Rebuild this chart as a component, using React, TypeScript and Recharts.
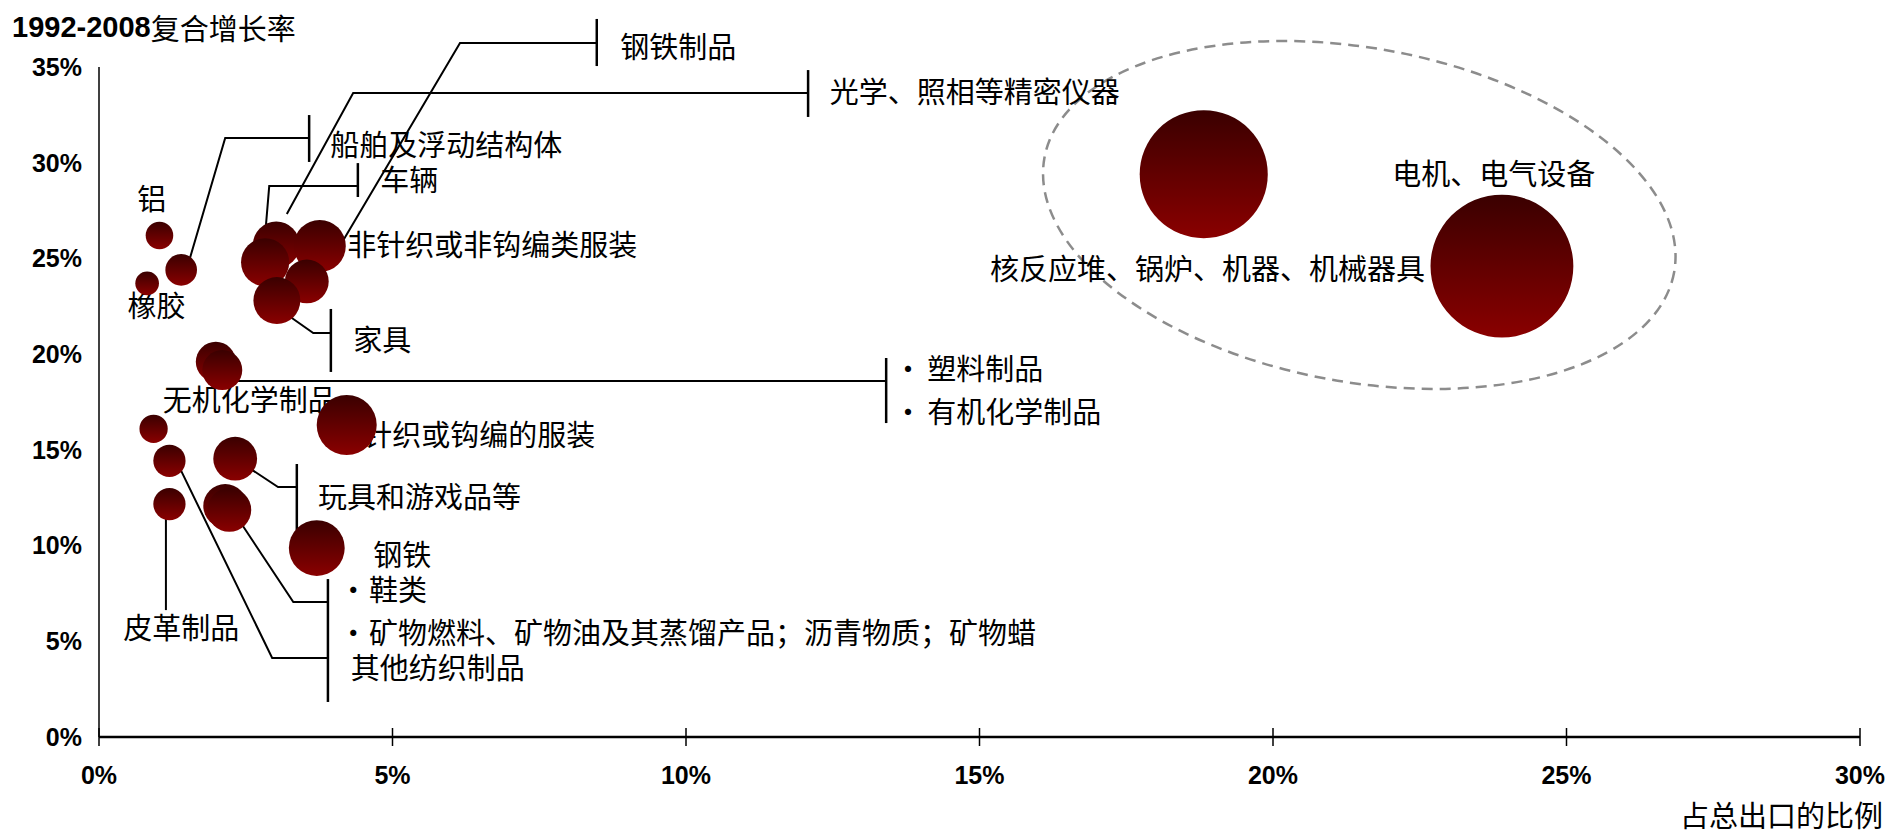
import React from "react";
import { ScatterChart, Scatter, XAxis, YAxis, ZAxis } from "recharts";

// 出口商品：占总出口比例 (x, %) / 1992-2008 复合增长率 (y, %) / 气泡大小
const categories = [
  "铝",
  "船舶及浮动结构体",
  "橡胶",
  "光学、照相等精密仪器",
  "非针织或非钩编类服装",
  "车辆",
  "钢铁制品",
  "家具",
  "塑料制品",
  "有机化学制品",
  "无机化学制品",
  "针织或钩编的服装",
  "其他纺织制品",
  "玩具和游戏品等",
  "皮革制品",
  "鞋类",
  "矿物燃料、矿物油及其蒸馏产品；沥青物质；矿物蜡",
  "钢铁",
  "核反应堆、锅炉、机器、机械器具",
  "电机、电气设备",
];
const exportShare = [1.03, 1.4, 0.82, 3.02, 3.76, 2.83, 3.54, 3.03, 1.99, 2.1, 0.93, 4.22, 1.2, 2.32, 1.2, 2.15, 2.22, 3.71, 18.82, 23.9];
const growthRate = [26.2, 24.4, 23.7, 25.7, 25.65, 24.8, 23.8, 22.8, 19.6, 19.17, 16.1, 16.3, 14.43, 14.54, 12.17, 12.07, 11.86, 9.87, 29.4, 24.6];
const bubbleSize = [1.9, 2.5, 1.4, 5.5, 6.8, 5.8, 4.8, 5.5, 4.0, 4.0, 2.0, 9.0, 2.6, 4.8, 2.6, 4.8, 4.8, 7.8, 41, 51];

const xTicks = [0, 5, 10, 15, 20, 25, 30];
const yTicks = [0, 5, 10, 15, 20, 25, 30, 35];

const points = categories.map((name, i) => ({
  name,
  x: exportShare[i],
  y: growthRate[i],
  z: bubbleSize[i],
}));

// leader lines, in data units (x %, y %)
const leaders: { pts: number[][]; bar?: number[] }[] = [
  { pts: [[3.71, 23.61], [6.15, 36.25], [8.48, 36.25]], bar: [8.48, 37.51, 35.05] },
  { pts: [[3.2, 27.32], [4.33, 33.64], [12.08, 33.64]], bar: [12.08, 34.84, 32.39] },
  { pts: [[1.52, 24.71], [2.15, 31.29], [3.58, 31.29]], bar: [3.58, 32.49, 30.04] },
  { pts: [[2.79, 24.76], [2.9, 28.78], [4.41, 28.78]], bar: [4.41, 29.98, 28.21] },
  { pts: [[3.14, 22.2], [3.65, 21.1], [3.95, 21.1]], bar: [3.95, 22.36, 19.07] },
  { pts: [[2.27, 18.6], [13.41, 18.6]], bar: [13.41, 19.8, 16.4] },
  { pts: [[2.56, 14.05], [3.05, 13.06], [3.37, 13.06]], bar: [3.37, 14.26, 10.81] },
  { pts: [[2.35, 11.49], [3.31, 7.05], [3.9, 7.05]], bar: [3.9, 8.25, 1.83] },
  { pts: [[1.4, 13.9], [2.95, 4.13], [3.9, 4.13]] },
  { pts: [[1.14, 11.6], [1.14, 6.63]] },
];

const labels: { t: string; x: number; y: number; a?: string; dot?: number }[] = [
  { t: "钢铁制品", x: 8.88, y: 36.15 },
  { t: "光学、照相等精密仪器", x: 12.45, y: 33.8 },
  { t: "船舶及浮动结构体", x: 3.94, y: 31.03 },
  { t: "车辆", x: 4.79, y: 29.2 },
  { t: "非针织或非钩编类服装", x: 4.23, y: 25.81 },
  { t: "家具", x: 4.33, y: 20.84 },
  { t: "铝", x: 0.9, y: 28.21, a: "middle" },
  { t: "橡胶", x: 0.98, y: 22.62, a: "middle" },
  { t: "无机化学制品", x: 2.57, y: 17.71, a: "middle" },
  { t: "塑料制品", x: 14.11, y: 19.33, dot: 13.78 },
  { t: "有机化学制品", x: 14.11, y: 17.08, dot: 13.78 },
  { t: "针织或钩编的服装", x: 4.5, y: 15.88 },
  { t: "玩具和游戏品等", x: 3.73, y: 12.64 },
  { t: "钢铁", x: 4.67, y: 9.61 },
  { t: "鞋类", x: 4.6, y: 7.78, dot: 4.33 },
  { t: "矿物燃料、矿物油及其蒸馏产品；沥青物质；矿物蜡", x: 4.6, y: 5.54, dot: 4.33 },
  { t: "其他纺织制品", x: 4.29, y: 3.71 },
  { t: "皮革制品", x: 1.4, y: 5.8, a: "middle" },
  { t: "核反应堆、锅炉、机器、机械器具", x: 22.59, y: 24.55, a: "end" },
  { t: "电机、电气设备", x: 22.03, y: 29.52 },
];

const W = 1889;
const H = 831;
const PLOT = { left: 99, top: 67, width: 1761, height: 670 };
const sx = (v: number) => PLOT.left + (v / 30) * PLOT.width;
const sy = (v: number) => PLOT.top + ((35 - v) / 35) * PLOT.height;

const CJK = "'Noto Sans CJK SC', sans-serif";
const LATIN = "'Liberation Sans', Arial, sans-serif";

function XTick(props: any) {
  const { x, y, payload } = props;
  return (
    <g>
      <line x1={x} x2={x} y1={y - 9} y2={y + 9} stroke="#000" strokeWidth={1.5} />
      <text x={x} y={y + 38} textAnchor="middle" dominantBaseline="central" fontFamily={LATIN} fontWeight="bold" fontSize={25} fill="#000">
        {payload.value}%
      </text>
    </g>
  );
}

function Annotations() {
  return (
    <g>
      <ellipse
        cx={sx(21.47)}
        cy={sy(27.27)}
        rx={320}
        ry={167}
        transform={`rotate(10.3 ${sx(21.47)} ${sy(27.27)})`}
        fill="none"
        stroke="#8c8c8c"
        strokeWidth={2.5}
        strokeDasharray="11 7"
      />
      {leaders.map((l, i) => (
        <g key={i}>
          <polyline points={l.pts.map((p) => `${sx(p[0])},${sy(p[1])}`).join(" ")} fill="none" stroke="#000" strokeWidth={2} />
          {l.bar && <line x1={sx(l.bar[0])} x2={sx(l.bar[0])} y1={sy(l.bar[1])} y2={sy(l.bar[2])} stroke="#000" strokeWidth={2.5} />}
        </g>
      ))}
      {labels.map((l, i) => (
        <g key={i}>
          {l.dot !== undefined && (
            <text x={sx(l.dot)} y={sy(l.y)} textAnchor="middle" dominantBaseline="central" fontFamily={CJK} fontSize={29} fill="#000">
              ·
            </text>
          )}
          <text x={sx(l.x)} y={sy(l.y)} textAnchor={(l.a as any) || "start"} dominantBaseline="central" fontFamily={CJK} fontSize={29} fill="#000">
            {l.t}
          </text>
        </g>
      ))}
      <text x={12} y={27} dominantBaseline="central" fontSize={29} fill="#000">
        <tspan fontFamily={LATIN} fontWeight="bold">1992-2008</tspan>
        <tspan fontFamily={CJK}>复合增长率</tspan>
      </text>
      <text x={1883} y={814} textAnchor="end" dominantBaseline="central" fontFamily={CJK} fontSize={29} fill="#000">
        占总出口的比例
      </text>
    </g>
  );
}

export default function App() {
  return (
    <div style={{ position: "absolute", left: 0, top: 0, width: W, height: H }}>
      <ScatterChart width={W} height={H} margin={{ top: PLOT.top, right: W - PLOT.left - PLOT.width, bottom: 0, left: 0 }}>
        <defs>
          <linearGradient id="bubbleFill" x1="0" y1="0" x2="0" y2="1">
            <stop offset="0%" stopColor="#3a0000" />
            <stop offset="100%" stopColor="#8a0000" />
          </linearGradient>
        </defs>
        <XAxis
          type="number"
          dataKey="x"
          domain={[0, 30]}
          ticks={xTicks}
          interval={0}
          height={H - PLOT.top - PLOT.height}
          axisLine={{ stroke: "#000", strokeWidth: 2.5 }}
          tickLine={false}
          tickSize={0}
          tickMargin={0}
          tick={<XTick />}
        />
        <YAxis
          type="number"
          dataKey="y"
          domain={[0, 35]}
          ticks={yTicks}
          interval={0}
          width={PLOT.left}
          axisLine={{ stroke: "#000", strokeWidth: 1.5 }}
          tickLine={false}
          tickSize={0}
          tickMargin={17}
          tickFormatter={(v: number) => `${v}%`}
          tick={{ fill: "#000", fontSize: 25, fontWeight: "bold", fontFamily: LATIN }}
        />
        <ZAxis type="number" dataKey="z" domain={[0, 60]} range={[0, 60 * 100 * Math.PI]} />
        <Scatter data={points} fill="url(#bubbleFill)" isAnimationActive={false} />
        <Annotations />
      </ScatterChart>
    </div>
  );
}
